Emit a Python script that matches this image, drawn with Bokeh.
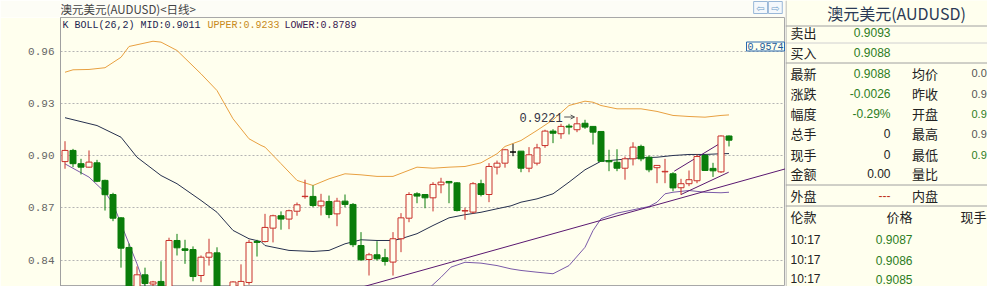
from bokeh.plotting import figure
from bokeh.layouts import row, column
from bokeh.models import Range1d, FixedTicker, Label, PrintfTickFormatter, Arrow, OpenHead
from bokeh.embed import file_html
from bokeh.resources import INLINE
from bokeh.core.properties import value

BG = "#ffffee"
RED = "#c8302a"
GREEN = "#0a7d0a"

# ---------------- data (daily candles, AUDUSD) ----------------
opens = [0.8965, 0.9029, 0.8953, 0.8933, 0.8958, 0.8857, 0.8776, 0.8642, 0.8472, 0.8225,
         0.8315, 0.8262, 0.8277, 0.8205, 0.8512, 0.8464, 0.8460, 0.8311, 0.8416, 0.8441,
         0.8215, 0.8210, 0.8225, 0.8271, 0.8506, 0.8506, 0.8583, 0.8654, 0.8635, 0.8680,
         0.8764, 0.8765, 0.8711, 0.8736, 0.8665, 0.8738, 0.8719, 0.8483, 0.8403, 0.8430,
         0.8413, 0.8388, 0.8522, 0.8640, 0.8780, 0.8776, 0.8757, 0.8832, 0.8851, 0.8843,
         0.8681, 0.8675, 0.8838, 0.8776, 0.8933, 0.8956, 0.9020, 0.9025, 0.8927, 0.8956,
         0.9057, 0.9140, 0.9125, 0.9169, 0.9148, 0.9185, 0.9167, 0.9138, 0.8971, 0.8961,
         0.8927, 0.8981, 0.9052, 0.8990, 0.8930, 0.8906, 0.8895, 0.8815, 0.8838, 0.8855,
         0.9000, 0.8926, 0.8906, 0.9112]
highs = [0.9082, 0.9038, 0.8981, 0.9029, 0.8975, 0.8861, 0.8786, 0.8646, 0.8495, 0.8363,
         0.8356, 0.8280, 0.8393, 0.8528, 0.8550, 0.8516, 0.8478, 0.8426, 0.8522, 0.8473,
         0.8240, 0.8278, 0.8375, 0.8516, 0.8516, 0.8665, 0.8660, 0.8679, 0.8689, 0.8730,
         0.8861, 0.8828, 0.8780, 0.8770, 0.8757, 0.8776, 0.8727, 0.8560, 0.8441, 0.8508,
         0.8464, 0.8560, 0.8669, 0.8789, 0.8789, 0.8776, 0.8847, 0.8872, 0.8853, 0.8847,
         0.8700, 0.8847, 0.8861, 0.8956, 0.8971, 0.9038, 0.9067, 0.9025, 0.9048, 0.9067,
         0.9148, 0.9151, 0.9182, 0.9182, 0.9221, 0.9205, 0.9167, 0.9138, 0.9033, 0.9036,
         0.8994, 0.9076, 0.9062, 0.9000, 0.8943, 0.8981, 0.8904, 0.8866, 0.8914, 0.9006,
         0.9006, 0.8958, 0.9115, 0.9115]
lows = [0.8924, 0.8933, 0.8891, 0.8930, 0.8847, 0.8684, 0.8623, 0.8356, 0.8210, 0.8200,
        0.8240, 0.8240, 0.8180, 0.8190, 0.8426, 0.8378, 0.8278, 0.8273, 0.8368, 0.8195,
        0.8180, 0.8195, 0.8210, 0.8258, 0.8420, 0.8501, 0.8501, 0.8574, 0.8577, 0.8654,
        0.8752, 0.8703, 0.8656, 0.8640, 0.8594, 0.8703, 0.8474, 0.8397, 0.8311, 0.8397,
        0.8368, 0.8311, 0.8445, 0.8617, 0.8726, 0.8697, 0.8679, 0.8783, 0.8726, 0.8679,
        0.8631, 0.8665, 0.8765, 0.8732, 0.8891, 0.8930, 0.8996, 0.8904, 0.8904, 0.8943,
        0.9044, 0.9071, 0.9096, 0.9121, 0.9134, 0.9153, 0.9063, 0.8967, 0.8910, 0.8910,
        0.8861, 0.8943, 0.8967, 0.8904, 0.8841, 0.8841, 0.8795, 0.8774, 0.8824, 0.8841,
        0.8914, 0.8877, 0.8900, 0.9052]
closes = [0.9029, 0.8953, 0.8933, 0.8962, 0.8852, 0.8775, 0.8640, 0.8468, 0.8235, 0.8315,
          0.8265, 0.8274, 0.8200, 0.8512, 0.8470, 0.8455, 0.8305, 0.8416, 0.8441, 0.8215,
          0.8205, 0.8274, 0.8277, 0.8501, 0.8501, 0.8587, 0.8654, 0.8635, 0.8683, 0.8717,
          0.8766, 0.8713, 0.8738, 0.8661, 0.8738, 0.8719, 0.8488, 0.8401, 0.8430, 0.8407,
          0.8392, 0.8522, 0.8642, 0.8776, 0.8767, 0.8757, 0.8834, 0.8847, 0.8843, 0.8684,
          0.8684, 0.8838, 0.8776, 0.8937, 0.8956, 0.9033, 0.9020, 0.8927, 0.9004, 0.9044,
          0.9140, 0.9128, 0.9167, 0.9163, 0.9182, 0.9163, 0.9134, 0.8967, 0.8964, 0.8927,
          0.8981, 0.9048, 0.8981, 0.8918, 0.8943, 0.8909, 0.8814, 0.8838, 0.8861, 0.8994,
          0.8914, 0.8912, 0.9112, 0.9088]

# Bollinger bands BOLL(26,2) (index, value)
upper_x = [0, 1, 3, 5, 7, 8, 11, 12, 14, 17, 19, 21, 23, 24.5, 25, 27, 29, 31, 33, 35, 37, 39, 41,
           44, 46, 48, 50, 52, 54, 55, 57, 59, 61, 63, 65, 66, 67, 69, 72, 74, 76, 78, 80, 82, 83]
upper_y = [0.9478, 0.9492, 0.9494, 0.9504, 0.9564, 0.9626, 0.9656, 0.9651, 0.9603, 0.9469, 0.9373,
           0.9211, 0.9096, 0.9058, 0.9048, 0.8953, 0.8857, 0.8828, 0.8866, 0.8895, 0.8889, 0.8880,
           0.8880, 0.8933, 0.8927, 0.8933, 0.8937, 0.8958, 0.9010, 0.9052, 0.9086, 0.9144, 0.9205,
           0.9287, 0.9312, 0.9306, 0.9287, 0.9268, 0.9268, 0.9253, 0.9230, 0.9224, 0.9220, 0.9230,
           0.9233]
mid_x = [0, 4, 7, 9, 12, 14, 17, 19, 21, 23, 24.5, 25, 28, 31, 33, 35, 37, 39, 41, 42, 44, 46, 48,
         50, 52, 54, 55.75, 57, 59, 61, 63, 65, 67, 69, 72, 74, 76, 78, 80, 82, 83]
mid_y = [0.9217, 0.9172, 0.9105, 0.8990, 0.8885, 0.8838, 0.8742, 0.8674, 0.8570, 0.8522, 0.8506,
         0.8483, 0.8455, 0.8449, 0.8455, 0.8493, 0.8516, 0.8512, 0.8512, 0.8522, 0.8551, 0.8598,
         0.8642, 0.8660, 0.8674, 0.8694, 0.8711, 0.8732, 0.8751, 0.8780, 0.8847, 0.8918, 0.8967,
         0.8975, 0.8987, 0.8990, 0.9000, 0.9006, 0.9006, 0.9010, 0.9011]
lower_x = [0, 3, 5, 6, 7, 8, 9, 10, 12, 16, 20, 26, 32, 38, 42, 45.75, 47, 48.25, 50, 52, 54,
           55.75, 57, 59, 61, 63, 65, 66, 67, 69, 71, 73, 74, 75, 76, 78, 80, 82, 83]
lower_y = [0.8952, 0.8876, 0.8789, 0.8723, 0.8608, 0.8493, 0.8378, 0.8248, 0.8100, 0.8000, 0.7950,
           0.7900, 0.7920, 0.8000, 0.8120, 0.8248, 0.8301, 0.8359, 0.8387, 0.8382, 0.8368, 0.8349,
           0.8340, 0.8330, 0.8321, 0.8368, 0.8473, 0.8569, 0.8637, 0.8669, 0.8688, 0.8707, 0.8732,
           0.8780, 0.8789, 0.8799, 0.8789, 0.8786, 0.8789]

# hand-drawn trend lines (index, price)
trend1_x = [30.0, 90.1]
trend1_y = [0.8153, 0.8924]
trend2_x = [76.16, 81.79]
trend2_y = [0.8910, 0.9067]
trend3_x = [77.0, 82.96]
trend3_y = [0.8776, 0.8904]

y_ticks = [0.84, 0.87, 0.90, 0.93, 0.96]

# quote panel (third column values are cut by the window edge in the original)
quote_rows = [("卖出", "0.9093", "", ""), ("买入", "0.9088", "", ""),
              ("最新", "0.9088", "均价", "0.0"), ("涨跌", "-0.0026", "昨收", "0.9"),
              ("幅度", "-0.29%", "开盘", "0.9"), ("总手", "0", "最高", "0.9"),
              ("现手", "0", "最低", "0.9"), ("金额", "0.00", "量比", ""),
              ("外盘", "---", "内盘", "")]
quote_val_colors = ["#2e7d1e", "#2e7d1e", "#2e7d1e", "#2e7d1e", "#2e7d1e", "#222222", "#222222",
                    "#222222", "#c03020"]
quote_val2_colors = ["#555555", "#555555", "#555555", "#555555", "#2e7d1e", "#555555", "#2e7d1e",
                     "#555555", "#555555"]
ticks_time = ["10:17", "10:17", "10:17"]
ticks_price = ["0.9087", "0.9086", "0.9085"]

# ---------------- header strip ----------------
HEAD = 17
h = figure(width=785, height=HEAD, x_range=Range1d(0, 785), y_range=Range1d(HEAD, 0),
           output_backend="svg", toolbar_location=None, title=None,
           x_axis_location=None, y_axis_location=None, min_border=0,
           background_fill_color="#fdfdf6", border_fill_color="#fdfdf6", outline_line_color=None)
h.grid.visible = False
h.text(x=[0], y=[8.5], text=["澳元美元(AUDUSD)<日线>"], text_font=value("Noto Sans CJK SC"),
       text_font_size="11.5px", text_color="#444444", text_baseline="middle")
h.rect(x=[758, 774], y=[7, 7], width=[15, 15], height=[12, 12], fill_color="#f4f8fc",
       line_color="#9ab8d8", line_width=1)
h.text(x=[758, 774], y=[7.5, 7.5], text=["⇦", "⇨"], text_font=value("DejaVu Sans"),
       text_font_size="10px", text_color="#6a9ac8", text_baseline="middle", text_align="center")

# ---------------- main chart ----------------
n = len(opens)
idx = list(range(n))
line_colors, fill_colors, tops, bottoms = [], [], [], []
for o, c in zip(opens, closes):
    if c > o:
        line_colors.append(RED); fill_colors.append(BG)
    elif c < o:
        line_colors.append(GREEN); fill_colors.append(GREEN)
    else:
        line_colors.append("#000000"); fill_colors.append("#000000")
    tops.append(max(o, c)); bottoms.append(min(o, c))

PX = 0.12 / 209.0           # price per pixel
y_top = 0.96 + (50.5 - HEAD) * PX
y_bot = 0.84 - (286 - 259.5) * PX
x0 = -0.5625
p = figure(width=785, height=286 - HEAD, x_range=Range1d(x0, x0 + 725 / 8),
           y_range=Range1d(y_bot, y_top), output_backend="svg", toolbar_location=None,
           title=None, x_axis_location=None, y_axis_location="left",
           min_border_left=60, min_border_right=0, min_border_top=0, min_border_bottom=0,
           background_fill_color=BG, border_fill_color=BG, outline_line_color="#a8a8a8")

ticker = FixedTicker(ticks=y_ticks)
p.yaxis.ticker = ticker
p.ygrid.ticker = ticker
p.yaxis.formatter = PrintfTickFormatter(format="%.2f")
p.yaxis.major_tick_line_color = None
p.yaxis.minor_tick_line_color = None
p.yaxis.major_tick_out = 0
p.yaxis.major_tick_in = 0
p.yaxis.minor_tick_out = 0
p.yaxis.axis_line_color = "#a0a0a0"
p.yaxis.major_label_text_font = "Liberation Mono"
p.yaxis.major_label_text_font_size = "11px"
p.yaxis.major_label_text_color = "#666666"
p.yaxis.major_label_standoff = 6
p.xgrid.visible = False
p.ygrid.grid_line_color = "#b4b4b4"
p.ygrid.grid_line_dash = "2 2"

p.line(upper_x, upper_y, line_color="#e8a040", line_width=1)
p.line(mid_x, mid_y, line_color="#26304e", line_width=1)
p.line(lower_x, lower_y, line_color="#7a5aa8", line_width=1)
for tx, ty in ((trend1_x, trend1_y), (trend2_x, trend2_y), (trend3_x, trend3_y)):
    p.line(tx, ty, line_color="#5a1870", line_width=1)

p.segment(x0=idx, y0=lows, x1=idx, y1=highs, line_color=line_colors, line_width=1)
p.vbar(x=idx, width=0.75, top=tops, bottom=bottoms, fill_color=fill_colors,
       line_color=line_colors, line_width=1)

# max-high annotation
imax = max(range(n), key=lambda i: highs[i])
p.add_layout(Label(x=imax - 1.8, y=highs[imax], text=f"{highs[imax]:.4f}", text_align="right",
                   text_baseline="middle", text_font="Liberation Mono", text_font_size="12px",
                   text_color="#333344"))
p.add_layout(Arrow(x_start=imax - 1.6, y_start=highs[imax], x_end=imax - 0.3, y_end=highs[imax],
                   line_color="#555555", line_width=1,
                   end=OpenHead(size=4, line_color="#555555", line_width=1)))

# indicator header (screen units relative to the frame)
def lab(x, y, text, color, font="Liberation Mono", size="10px", baseline="middle", **kw):
    p.add_layout(Label(x=x, y=y, x_units="screen", y_units="screen", text=text,
                       text_font=font, text_font_size=size, text_color=color,
                       text_baseline=baseline, **kw))

lab(2, 261, "K BOLL(26,2) MID:0.9011", "#1c2450")
lab(147, 261, "UPPER:0.9233", "#c88a20")
lab(224, 261, "LOWER:0.8789", "#3a1850")
lab(686, 240, "0.9574", "#1a5a9a", size="10px", border_line_color="#2a6ab0",
    background_fill_color=BG, padding=1)

# ---------------- quote panel ----------------
q = figure(width=202, height=286, x_range=Range1d(0, 202), y_range=Range1d(286, 0),
           output_backend="svg", toolbar_location=None, title=None,
           x_axis_location=None, y_axis_location=None, min_border=0,
           background_fill_color=BG, border_fill_color=BG, outline_line_color=None)
q.grid.visible = False

q.segment(x0=[0, 0, 0, 0, 0, 0.5], y0=[25.5, 42.5, 62.5, 184.5, 205.5, 0],
          x1=[202, 202, 202, 202, 202, 0.5], y1=[25.5, 42.5, 62.5, 184.5, 205.5, 286],
          line_color=["#a0a0a0", "#d0d0d0", "#a0a0a0", "#a0a0a0", "#a0a0a0", "#a8a8a8"],
          line_width=1)

q.text(x=[111], y=[12], text=["澳元美元(AUDUSD)"], text_font=value("Noto Sans CJK SC"),
       text_font_size="16px", text_color="#2b3a55", text_align="center", text_baseline="middle")

row_y = [32.3, 52.3, 72.7, 93.3, 113.3, 133.3, 154, 173.3, 195]
cjk = value("Noto Sans CJK SC")
num = value("Liberation Sans")
q.text(x=[5] * len(quote_rows), y=row_y, text=[r[0] for r in quote_rows], text_font=cjk,
       text_font_size="13px", text_color="#222222", text_baseline="middle")
q.text(x=[105] * len(quote_rows), y=row_y, text=[r[1] for r in quote_rows], text_font=num,
       text_font_size="12px", text_color=quote_val_colors, text_baseline="middle",
       text_align="right")
q.text(x=[126.5] * len(quote_rows), y=row_y, text=[r[2] for r in quote_rows], text_font=cjk,
       text_font_size="13px", text_color="#222222", text_baseline="middle")
q.text(x=[186] * len(quote_rows), y=row_y, text=[r[3] for r in quote_rows], text_font=num,
       text_font_size="11px", text_color=quote_val2_colors, text_baseline="middle")

q.text(x=[5, 127, 175], y=[216, 216, 216], text=["伦款", "价格", "现手"], text_font=cjk,
       text_font_size="13px", text_color="#222222", text_baseline="middle",
       text_align=["left", "right", "left"])
tick_y = [239, 259.5, 278.5]
q.text(x=[5] * 3, y=tick_y, text=ticks_time, text_font=num, text_font_size="12px",
       text_color="#222222", text_baseline="middle")
q.text(x=[127] * 3, y=tick_y, text=ticks_price, text_font=num, text_font_size="12px",
       text_color="#2e7d1e", text_baseline="middle", text_align="right")

layout = row(column(h, p), q)
open("out.html", "w").write(file_html(layout, INLINE))
